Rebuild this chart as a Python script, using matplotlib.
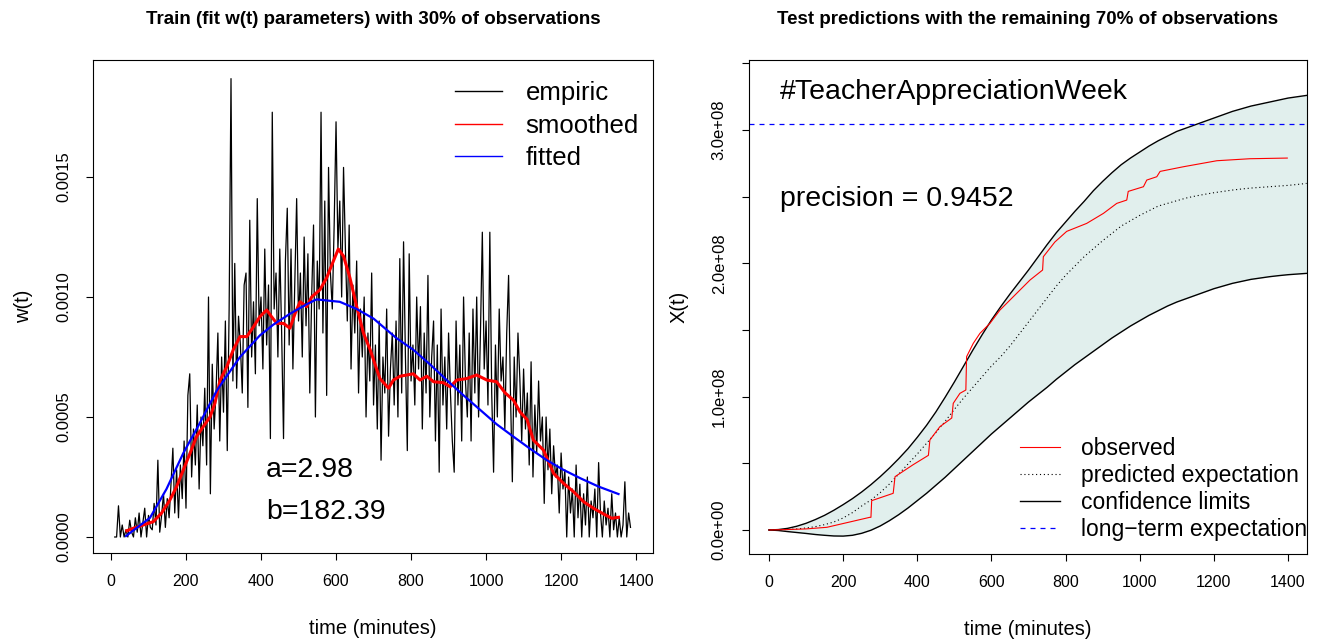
import matplotlib
matplotlib.use("Agg")
import matplotlib.pyplot as plt
from matplotlib.lines import Line2D
import numpy as np

plt.rcParams['font.family'] = ['Liberation Sans', 'DejaVu Sans']

# ---- left panel: w(t), values in units of 1e-5 ----
emp_time = np.arange(10, 1390, 5)  # one value every 5 minutes
emp_vals = [
    0, 0, 13, 0, 5, 0, 3, 0, 7, 2,
    0, 8, 2, 10, 0, 6, 12, 0, 9, 4,
    3, 14, 5, 32, 2, 9, 18, 4, 16, 8,
    22, 37, 10, 28, 8, 30, 16, 40, 12, 59,
    68, 25, 45, 30, 55, 20, 50, 38, 62, 30,
    100, 18, 72, 45, 60, 85, 40, 75, 52, 90,
    36, 95, 191, 65, 114, 62, 92, 80, 60, 105,
    110, 54, 132, 75, 98, 68, 141, 88, 100, 70,
    120, 80, 105, 41, 177, 95, 110, 75, 120, 85,
    41, 115, 137, 80, 120, 70, 105, 141, 90, 110,
    75, 125, 88, 118, 60, 100, 130, 50, 115, 95,
    177, 85, 140, 59, 154, 110, 95, 130, 173, 120,
    140, 100, 154, 120, 90, 130, 70, 105, 85, 115,
    60, 95, 75, 100, 50, 85, 65, 110, 55, 80,
    45, 90, 32, 75, 60, 95, 42, 70, 85, 55,
    90, 50, 116, 60, 123, 75, 36, 118, 65, 80,
    55, 100, 70, 96, 45, 85, 60, 109, 50, 75,
    90, 40, 80, 27, 95, 55, 75, 45, 85, 60,
    40, 27, 90, 55, 80, 40, 100, 65, 50, 85,
    40, 95, 60, 100, 50, 85, 127, 70, 90, 55,
    127, 60, 27, 80, 50, 95, 65, 75, 45, 85,
    109, 60, 23, 75, 50, 85, 66, 40, 70, 45,
    60, 30, 73, 25, 55, 35, 65, 40, 50, 14,
    50, 28, 45, 18, 38, 25, 30, 10, 35, 20,
    28, 0, 25, 10, 20, 0, 30, 8, 22, 0,
    18, 5, 25, 0, 15, 8, 20, 0, 31, 10,
    0, 15, 5, 12, 0, 18, 3, 10, 0, 8,
    0, 5, 23, 0, 10, 4,
]

smooth_t = [42, 59, 86, 113, 135, 157, 175, 193, 211, 228, 246, 264, 277, 291, 309,
            326, 344, 362, 380, 397, 415, 428, 442, 460, 477, 491, 504, 522, 535, 557,
            575, 593, 606, 620, 637, 655, 673, 691, 709, 717, 740, 753, 771, 806, 824,
            842, 860, 886, 904, 922, 948, 975, 1002, 1028, 1051, 1073, 1091, 1109, 1126,
            1153, 1180, 1206, 1233, 1260, 1286, 1313, 1335, 1353]
smooth_v = [2.6, 3.6, 5.0, 6.4, 10, 15.4, 21, 28, 35, 41.8, 46, 50, 55.7, 65.4, 71,
            78, 83.5, 83.5, 87.6, 91.8, 94.6, 91.8, 89, 89, 87, 93.2, 98, 96, 100, 103,
            108, 115, 120, 117, 108, 96, 85, 78, 69.6, 66, 62, 65.4, 67, 68, 65.4,
            67, 64.7, 64.3, 62.6, 65.4, 66, 67.5, 65.4, 64.7, 60, 57, 52, 49, 40.4,
            36.2, 26.5, 22.4, 18.9, 14.7, 12, 9.6, 7.8, 8.2]

fit_t = [40, 104, 148, 193, 237, 282, 326, 344, 397, 433, 477, 522, 548, 610, 655,
         700, 760, 806, 850, 895, 940, 984, 1028, 1073, 1118, 1162, 1206, 1251, 1300, 1353]
fit_v = [0.4, 8, 20, 35, 47.5, 61, 71, 75, 84, 88.5, 93, 97, 99, 98, 95,
         91, 83, 78, 72, 65.4, 59, 53, 47, 41.8, 36.7, 32, 28, 24.5, 21, 17.9]

# ---- right panel: X(t), values in units of 1e8, read every 25 minutes ----
band_t = np.arange(0, 1451, 25)
upper = [0, 0.003, 0.012, 0.028, 0.05, 0.078, 0.11, 0.148, 0.19, 0.235,
         0.285, 0.34, 0.40, 0.465, 0.535, 0.61, 0.695, 0.785, 0.885, 0.995,
         1.11, 1.23, 1.35, 1.465, 1.575, 1.675, 1.77, 1.86, 1.95, 2.045,
         2.14, 2.23, 2.31, 2.39, 2.465, 2.545, 2.615, 2.68, 2.74, 2.79,
         2.835, 2.88, 2.92, 2.955, 2.99, 3.015, 3.04, 3.065, 3.09, 3.115,
         3.14, 3.16, 3.18, 3.195, 3.21, 3.225, 3.24, 3.25, 3.26]
lower = [0, -0.004, -0.012, -0.019, -0.026, -0.034, -0.04, -0.045, -0.046, -0.04,
         -0.025, -0.002, 0.03, 0.07, 0.115, 0.165, 0.22, 0.275, 0.335, 0.395,
         0.46, 0.525, 0.59, 0.655, 0.72, 0.78, 0.84, 0.90, 0.96, 1.015,
         1.07, 1.13, 1.185, 1.24, 1.29, 1.34, 1.39, 1.44, 1.485, 1.53,
         1.57, 1.61, 1.645, 1.68, 1.71, 1.735, 1.76, 1.785, 1.81, 1.83,
         1.85, 1.865, 1.88, 1.89, 1.90, 1.908, 1.915, 1.92, 1.925]
expected = [0, 0.001, 0.004, 0.008, 0.015, 0.025, 0.04, 0.06, 0.09, 0.13,
            0.18, 0.225, 0.28, 0.345, 0.42, 0.495, 0.57, 0.65, 0.73, 0.815,
            0.905, 0.99, 1.07, 1.15, 1.23, 1.30, 1.38, 1.47, 1.56, 1.65,
            1.74, 1.83, 1.91, 1.98, 2.05, 2.11, 2.17, 2.225, 2.28, 2.32,
            2.36, 2.395, 2.43, 2.45, 2.47, 2.49, 2.505, 2.518, 2.53, 2.54,
            2.55, 2.558, 2.565, 2.57, 2.575, 2.58, 2.585, 2.592, 2.6]

obs_t = [0, 50, 100, 156, 218, 272, 275, 277, 335, 340, 389, 430, 434, 461, 493, 497, 515,
         531, 533, 551, 569, 596, 623, 668, 704, 738, 740, 771, 803, 857, 902, 938, 965,
         969, 1010, 1019, 1046, 1055, 1118, 1208, 1297, 1398]
obs_v = [0, 0.003, 0.008, 0.02, 0.06, 0.095, 0.095, 0.22, 0.275, 0.40, 0.49, 0.56, 0.675, 0.775,
         0.84, 0.95, 1.025, 1.05, 1.30, 1.40, 1.475, 1.55, 1.65, 1.775, 1.875, 1.95, 2.05, 2.16,
         2.24, 2.30, 2.375, 2.45, 2.475, 2.54, 2.575, 2.625, 2.65, 2.69, 2.725, 2.77, 2.785, 2.79]

long_term = 3.045

fig = plt.figure(figsize=(13.2, 6.44), dpi=100)
ax1 = fig.add_axes([0.0708, 0.1413, 0.4239, 0.7655])
ax2 = fig.add_axes([0.5674, 0.1398, 0.4227, 0.7671])

# left
ax1.plot(emp_time, np.array(emp_vals) * 1e-5, color='black', lw=0.9)
ax1.plot(smooth_t, np.array(smooth_v) * 1e-5, color='red', lw=2.2)
ax1.plot(fit_t, np.array(fit_v) * 1e-5, color='blue', lw=1.6)
ax1.set_xlim(-46.7, 1445)
ax1.set_ylim(-0.0000667, 0.0019875)
ax1.set_xticks(range(0, 1401, 200))
ax1.set_yticks([0, 0.0005, 0.001, 0.0015])
ax1.set_yticklabels(['0.0000', '0.0005', '0.0010', '0.0015'], rotation=90, va='center')
ax1.set_ylabel('w(t)', fontsize=14.5, labelpad=17)
ax1.set_title('Train (fit w(t) parameters) with 30% of observations',
              fontsize=13.5, fontweight='bold', pad=26)
ax1.text(413, 0.000279, 'a=2.98', fontsize=20.5, ha='left', va='center')
ax1.text(413, 0.000104, 'b=182.39', fontsize=20.5, ha='left', va='center')
h1 = [Line2D([], [], color='black', lw=1),
      Line2D([], [], color='red', lw=1),
      Line2D([], [], color='blue', lw=1)]
ax1.legend(h1, ['empiric', 'smoothed', 'fitted'], loc='upper left',
           bbox_to_anchor=(0.646, 0.957), frameon=False, fontsize=18.5,
           borderpad=0, borderaxespad=0, handlelength=1.85, handletextpad=0.9,
           labelspacing=0.33)

# right
ax2.fill_between(band_t, lower, upper, color='#e1efed', lw=0)
ax2.plot(band_t, upper, color='black', lw=1)
ax2.plot(band_t, lower, color='black', lw=1)
ax2.plot(band_t, expected, color='black', lw=0.8, ls=(0, (1, 2.5)))
ax2.plot(obs_t, obs_v, color='red', lw=0.8)
ax2.axhline(long_term, color='blue', lw=0.9, ls=(0, (4, 4)))
ax2.set_xlim(-54, 1451)
ax2.set_ylim(-0.18, 3.526)
ax2.set_xticks(range(0, 1401, 200))
ax2.set_yticks([0, 0.5, 1, 1.5, 2, 2.5, 3, 3.5])
ax2.set_yticklabels(['0.0e+00', '', '1.0e+08', '', '2.0e+08', '', '3.0e+08', ''],
                    rotation=90, va='center')
ax2.set_ylabel('X(t)', fontsize=14.5, labelpad=17)
ax2.set_title('Test predictions with the remaining 70% of observations',
              fontsize=13.5, fontweight='bold', pad=26)
ax2.text(30, 3.285, '#TeacherAppreciationWeek', fontsize=20.5, ha='left', va='center')
ax2.text(30, 2.483, 'precision = 0.9452', fontsize=20.5, ha='left', va='center')
h2 = [Line2D([], [], color='red', lw=0.8),
      Line2D([], [], color='black', lw=0.8, ls=(0, (1, 2.5))),
      Line2D([], [], color='black', lw=1),
      Line2D([], [], color='blue', lw=0.9, ls=(0, (4, 4)))]
ax2.legend(h2, ['observed', 'predicted expectation', 'confidence limits', 'long\u2212term expectation'],
           loc='upper left', bbox_to_anchor=(0.486, 0.237), frameon=False, fontsize=16.5,
           borderpad=0, borderaxespad=0, handlelength=1.75, handletextpad=0.92,
           labelspacing=0.17)

for ax in (ax1, ax2):
    ax.set_xlabel('time (minutes)', fontsize=14.5, labelpad=22)
    ax.tick_params(direction='out', length=5, width=0.8, labelsize=11.5, pad=10)
    ax.tick_params(axis='y', labelsize=12, pad=11)
    for s in ax.spines.values():
        s.set_linewidth(0.8)

fig.savefig('out.png', dpi=100)
